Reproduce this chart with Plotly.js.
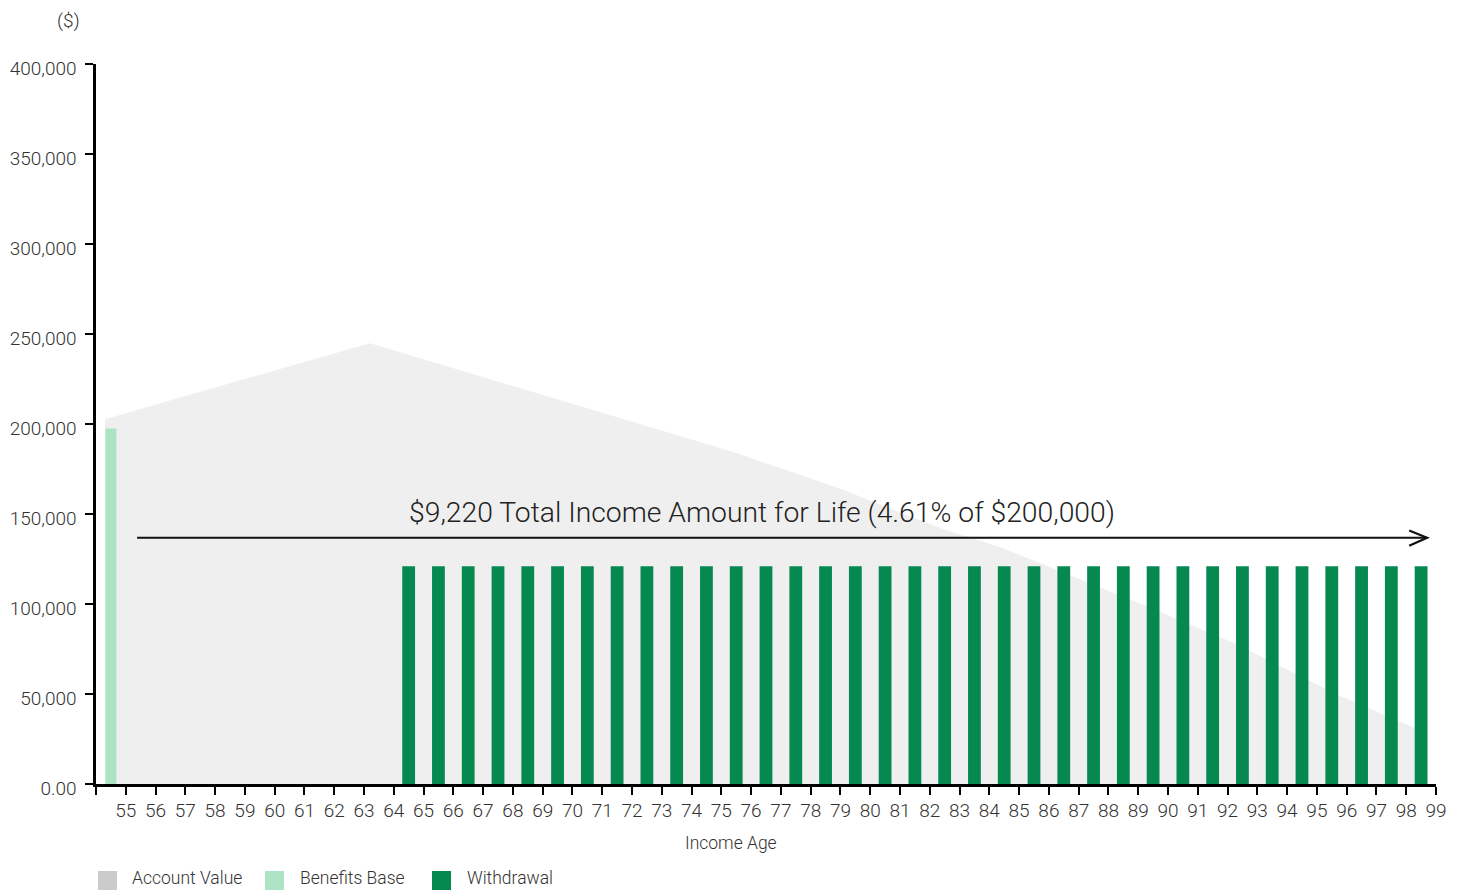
<!DOCTYPE html>
<html>
<head>
<meta charset="utf-8">
<script src="https://cdn.plot.ly/plotly-3.0.1.min.js"></script>
<style>
  html, body { margin: 0; padding: 0; background: #ffffff; }
  #chart { width: 1460px; height: 890px; }
</style>
</head>
<body>
<div id="chart"></div>
<script>
// ---------------- data ----------------
const seriesNames = ['Account Value', 'Benefits Base', 'Withdrawal'];

// Account value (area) — ages and values
const accountAges   = [54.3, 63.2, 66, 70.9, 75.4, 79, 82.3, 84.3, 89, 92.2, 95.7, 98.3, 98.5];
const accountValues = [202700, 244900, 231000, 206700, 184500, 164000, 142500, 132000, 100700, 78500, 49600, 31000, 29700];

// Benefits base bar
const benefitsAges   = [54];
const benefitsValues = [197500];

// Withdrawal bars
const withdrawalAges = [64, 65, 66, 67, 68, 69, 70, 71, 72, 73, 74, 75, 76, 77, 78, 79, 80, 81,
                        82, 83, 84, 85, 86, 87, 88, 89, 90, 91, 92, 93, 94, 95, 96, 97, 98];
const withdrawalValues = [121000, 121000, 121000, 121000, 121000, 121000, 121000, 121000, 121000,
                          121000, 121000, 121000, 121000, 121000, 121000, 121000, 121000, 121000,
                          121000, 121000, 121000, 121000, 121000, 121000, 121000, 121000, 121000,
                          121000, 121000, 121000, 121000, 121000, 121000, 121000, 121000];

// Axis ticks
const xTickVals = [54, 55, 56, 57, 58, 59, 60, 61, 62, 63, 64, 65, 66, 67, 68, 69, 70, 71, 72, 73, 74, 75, 76,
                   77, 78, 79, 80, 81, 82, 83, 84, 85, 86, 87, 88, 89, 90, 91, 92, 93, 94, 95, 96, 97, 98, 99];
const xTickText = ['', '55', '56', '57', '58', '59', '60', '61', '62', '63', '64', '65', '66', '67', '68', '69', '70',
                   '71', '72', '73', '74', '75', '76', '77', '78', '79', '80', '81', '82', '83', '84', '85', '86',
                   '87', '88', '89', '90', '91', '92', '93', '94', '95', '96', '97', '98', '99'];
const yTickVals = [0, 50000, 100000, 150000, 200000, 250000, 300000, 350000, 400000];
const yTickText = ['0.00', '50,000', '100,000', '150,000', '200,000', '250,000', '300,000', '350,000', '400,000'];

// Annotation text
const incomeText = '$9,220 Total Income Amount for Life (4.61% of $200,000)';
const xAxisTitle = 'Income Age';
const yAxisUnit = '($)';

// Arrow (annotation) placement
const arrowStartAge = 55.38;
const arrowEndAge = 98.70;
const arrowLevel = 136800;

// ---------------- style ----------------
const colors = ['#efefef', '#ace3c5', '#068950'];
const legendColors = ['#cbcbcb', '#ace3c5', '#068950'];
const textFont = 'Roboto, "Liberation Sans", sans-serif';

const M = { l: 96, r: 24, t: 64, b: 106 };
const W = 1460, H = 890;
const plotW = W - M.l - M.r, plotH = H - M.t - M.b;
const px2x = px => (px - M.l) / plotW;
const py2y = py => (H - M.b - py) / plotH;

const barW = 0.43, bbW = 0.37;

const traces = [
  {
    type: 'scatter', mode: 'lines', name: seriesNames[0],
    x: accountAges, y: accountValues,
    fill: 'tozeroy', fillcolor: colors[0],
    line: { width: 0, color: colors[0] },
    hoverinfo: 'skip', showlegend: false
  },
  {
    type: 'bar', name: seriesNames[1],
    x: benefitsAges, y: benefitsValues,
    xaxis: 'x2', yaxis: 'y2',
    width: bbW, offset: 0.5 - bbW / 2,
    marker: { color: colors[1], line: { width: 0 } },
    showlegend: false
  },
  {
    type: 'bar', name: seriesNames[2],
    x: withdrawalAges, y: withdrawalValues,
    xaxis: 'x2', yaxis: 'y2',
    width: barW, offset: 0.5 - barW / 2,
    marker: { color: colors[2], line: { width: 0 } },
    showlegend: false
  }
];

// legend built from shapes + annotations
const legendSquares = [[98, 117], [265, 284], [432, 451]];
const legendTextX = [130, 298, 465];
const legendTop = 871, legendBottom = 890, legendMid = 878;

const shapes = [
  { type: 'line', xref: 'x', yref: 'y', x0: arrowStartAge, x1: arrowEndAge, y0: arrowLevel, y1: arrowLevel,
    line: { color: '#111111', width: 2.2 } },
  { type: 'path', xref: 'x', yref: 'y',
    path: `M ${arrowEndAge - 0.6},${arrowLevel + 4000} L ${arrowEndAge},${arrowLevel} L ${arrowEndAge - 0.6},${arrowLevel - 4500}`,
    line: { color: '#111111', width: 2.2 } }
];
legendSquares.forEach((s, i) => {
  shapes.push({ type: 'rect', xref: 'paper', yref: 'paper',
    x0: px2x(s[0]), x1: px2x(s[1]), y0: py2y(legendBottom), y1: py2y(legendTop),
    fillcolor: legendColors[i], line: { width: 0 } });
});

const annotations = [
  { xref: 'x', yref: 'y', x: 76.36, y: 150600, text: incomeText, showarrow: false,
    xanchor: 'center', yanchor: 'middle', font: { family: textFont, size: 28.3, weight: 300, color: '#222222' } },
  { xref: 'paper', yref: 'paper', x: px2x(731), y: py2y(843), text: xAxisTitle, showarrow: false,
    xanchor: 'center', yanchor: 'middle', font: { family: textFont, size: 17.5, weight: 300, color: '#333333' } },
  { xref: 'paper', yref: 'paper', x: px2x(68), y: py2y(20), text: yAxisUnit, showarrow: false,
    xanchor: 'center', yanchor: 'middle', font: { family: textFont, size: 19, weight: 300, color: '#333333' } }
];
seriesNames.forEach((n, i) => {
  annotations.push({ xref: 'paper', yref: 'paper', x: px2x(legendTextX[i]), y: py2y(legendMid), text: n,
    showarrow: false, xanchor: 'left', yanchor: 'middle',
    font: { family: textFont, size: 17.5, weight: 300, color: '#333333' } });
});

const axisCommon = {
  showgrid: false, zeroline: false,
  showline: true, linecolor: '#000000', linewidth: 2.6,
  ticks: 'outside', ticklen: 8, tickwidth: 2, tickcolor: '#000000',
  tickfont: { family: textFont, size: 19, weight: 300, color: '#333333' }
};

const layout = {
  width: W, height: H,
  margin: M,
  paper_bgcolor: '#ffffff', plot_bgcolor: '#ffffff',
  showlegend: false,
  barmode: 'overlay',
  xaxis: Object.assign({}, axisCommon, {
    range: [54, 99], tickmode: 'array', tickvals: xTickVals, ticktext: xTickText,
    ticklabelstandoff: 0
  }),
  yaxis: Object.assign({}, axisCommon, {
    range: [0, 400000], tickmode: 'array', tickvals: yTickVals, ticktext: yTickText,
    ticklabelstandoff: 5, ticklabelshift: 4
  }),
  xaxis2: { overlaying: 'x', anchor: 'y2', range: [54, 99], visible: false, showgrid: false, zeroline: false },
  yaxis2: { overlaying: 'y', anchor: 'x2', range: [0, 400000], visible: false, showgrid: false, zeroline: false },
  shapes: shapes,
  annotations: annotations
};

Plotly.newPlot('chart', traces, layout, { displayModeBar: false, staticPlot: true });
</script>
</body>
</html>
